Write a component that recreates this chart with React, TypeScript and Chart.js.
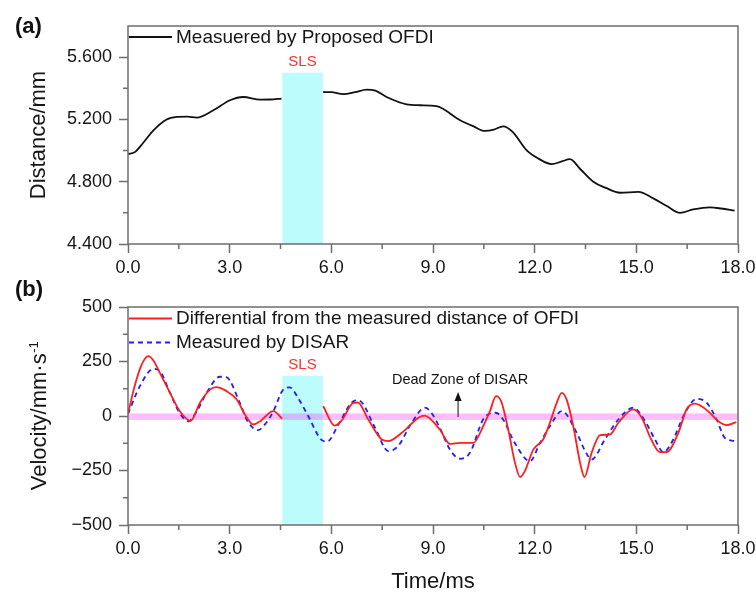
import React, { useEffect, useRef } from 'react';
import { Chart, registerables } from 'chart.js';

Chart.register(...registerables);

// ---------- data ----------
const timeTicks = [0, 3, 6, 9, 12, 15, 18];
const timeMinor = [1.5, 4.5, 7.5, 10.5, 13.5, 16.5];
const distTicks = [4.4, 4.8, 5.2, 5.6];
const distMinor = [4.6, 5.0, 5.4];
const velTicks = [-500, -250, 0, 250, 500];
const velMinor = [-375, -125, 125, 375];

// (a) measured distance by proposed OFDI (mm)
const distT = [0, 0.2, 0.45, 0.75, 1.14, 1.44, 1.75, 2.03, 2.52, 3.01, 3.4, 3.9, 4.2, 4.53, 5.15, 5.76, 6.0, 6.35, 6.7, 7.04, 7.3, 7.63, 8.22, 8.62, 9.1, 9.8, 10.2, 10.53, 10.8, 11.07, 11.35, 11.76, 12.1, 12.5, 12.8, 13.04, 13.35, 13.73, 14.1, 14.52, 15.06, 15.5, 15.9, 16.29, 16.68, 17.17, 17.5, 17.9];
const distV = [4.977, 4.99, 5.05, 5.13, 5.2, 5.216, 5.218, 5.212, 5.259, 5.323, 5.344, 5.327, 5.328, 5.334, null, 5.376, 5.375, 5.362, 5.375, 5.392, 5.385, 5.344, 5.297, 5.291, 5.285, 5.195, 5.155, 5.126, 5.135, 5.156, 5.12, 5.003, 4.95, 4.913, 4.93, 4.945, 4.88, 4.8, 4.76, 4.729, 4.735, 4.693, 4.644, 4.6, 4.622, 4.635, 4.628, 4.614];

// (b) differential of OFDI distance (mm/s)
const diffT = [0, 0.2, 0.4, 0.6, 0.75, 0.94, 1.24, 1.53, 1.85, 2.12, 2.42, 2.6, 2.91, 3.21, 3.45, 3.7, 3.9, 4.29, 4.55, 5.15, 5.76, 6.1, 6.29, 6.65, 6.78, 7.09, 7.49, 7.68, 8.08, 8.57, 8.75, 9.2, 9.5, 9.8, 10.19, 10.48, 10.68, 10.86, 11.01, 11.22, 11.42, 11.57, 11.71, 11.96, 12.25, 12.45, 12.65, 12.8, 12.94, 13.14, 13.34, 13.47, 13.68, 13.93, 14.22, 14.47, 14.91, 15.16, 15.44, 15.7, 15.89, 16.24, 16.48, 16.73, 17.12, 17.42, 17.66, 17.95];
const diffV = [10, 140, 235, 275, 255, 198, 106, 22, -22, 60, 121, 132, 114, 76, 7, -39, -24, 22, -12, null, 45, -44, -24, 60, 62, -16, -108, -115, -77, -8, 2, -62, -128, -123, -123, -47, 22, 91, 68, -62, -215, -280, -253, -154, -108, -31, 60, 106, 76, -47, -215, -280, -169, -88, -85, -31, 30, -8, -108, -166, -166, -77, 30, 57, 22, -24, -42, -28];

// (b) measured by DISAR (mm/s)
const disarT = [0, 0.35, 0.75, 0.94, 1.24, 1.5, 1.78, 2.03, 2.32, 2.71, 2.9, 3.3, 3.5, 3.83, 4.08, 4.29, 4.58, 4.77, 5.03, 5.32, 5.7, 5.88, 6.21, 6.65, 6.8, 7.29, 7.68, 7.97, 8.37, 8.76, 8.95, 9.2, 9.5, 9.8, 10.09, 10.48, 10.85, 11.07, 11.4, 11.86, 12.16, 12.45, 12.8, 13.24, 13.49, 13.68, 14.07, 14.47, 14.91, 15.26, 15.55, 15.8, 16.09, 16.39, 16.78, 17.08, 17.37, 17.61, 17.9];
const disarV = [10, 137, 216, 206, 106, 20, -24, 22, 106, 180, 178, 60, -16, -65, -31, 22, 121, 131, 80, -1, -108, -117, -39, 68, 72, -54, -161, -138, -31, 38, 15, -54, -154, -196, -169, -16, 15, -16, -120, -207, -123, -47, 22, -77, -161, -200, -108, -16, 38, -24, -108, -166, -108, 0, 79, 60, -16, -100, -115];

const slsRange = [4.55, 5.75];
const slsTopDist = 5.5;
const slsTopVel = 185;
const deadZone = [-18, 12];
const deadArrow = { t: 9.74, from: -5, to: 110 };
const deadLabel = { t: 9.8, v: 167, text: 'Dead Zone of DISAR' };

const legendA = ['Measuered by Proposed OFDI'];
const legendB = ['Differential from the measured distance of OFDI', 'Measured by DISAR'];

// ---------- styles ----------
const FONT = 'Arial, "Liberation Sans", Helvetica, sans-serif';
const GRAY = '#6e6e6e';
const TEXT = '#161616';
const CYAN = '#bdfcfc';
const RED = '#ff1e1e';
const BLUE = '#1e1eff';

Chart.defaults.font.family = FONT;

const pts = (t: number[], v: (number | null)[]) => t.map((x, i) => ({ x, y: v[i] }));

type Extra = {
  panel: string;
  panelY: number;
  xMinor: number[];
  yMinor: number[];
  slsTop: number;
  legendRows: number[];
  band?: number[];
  dead?: boolean;
  yTitleSup?: boolean;
};

function decorPlugin(extra: Extra) {
  return {
    id: 'decor',
    beforeDatasetsDraw(chart: any) {
      const { ctx, chartArea: a, scales } = chart;
      const xs = scales.x, ys = scales.y;
      ctx.save();
      const x0 = xs.getPixelForValue(slsRange[0]);
      const x1 = xs.getPixelForValue(slsRange[1]);
      const yt = ys.getPixelForValue(extra.slsTop);
      ctx.fillStyle = CYAN;
      ctx.fillRect(x0, yt, x1 - x0, a.bottom - yt);
      if (extra.band) {
        const b0 = ys.getPixelForValue(extra.band[1]);
        const b1 = ys.getPixelForValue(extra.band[0]);
        ctx.fillStyle = 'rgba(255,0,255,0.26)';
        ctx.fillRect(a.left, b0, a.right - a.left, b1 - b0);
      }
      ctx.restore();
    },
    afterDraw(chart: any) {
      const { ctx, chartArea: a, scales } = chart;
      const xs = scales.x, ys = scales.y;
      ctx.save();
      // frame
      ctx.strokeStyle = GRAY;
      ctx.lineWidth = 1.5;
      ctx.strokeRect(a.left, a.top, a.right - a.left, a.bottom - a.top);
      // minor ticks
      ctx.beginPath();
      extra.xMinor.forEach((v) => {
        const p = xs.getPixelForValue(v);
        ctx.moveTo(p, a.bottom);
        ctx.lineTo(p, a.bottom + 5);
      });
      extra.yMinor.forEach((v) => {
        const p = ys.getPixelForValue(v);
        ctx.moveTo(a.left - 5, p);
        ctx.lineTo(a.left, p);
      });
      ctx.stroke();
      // SLS label
      const xc = xs.getPixelForValue((slsRange[0] + slsRange[1]) / 2);
      const yt = ys.getPixelForValue(extra.slsTop);
      ctx.fillStyle = '#ff3030';
      ctx.font = `15px ${FONT}`;
      ctx.textAlign = 'center';
      ctx.textBaseline = 'middle';
      ctx.fillText('SLS', xc, yt - 11);
      // legend
      chart.data.datasets.forEach((ds: any, i: number) => {
        const y = a.top + extra.legendRows[i];
        ctx.beginPath();
        ctx.strokeStyle = ds.borderColor;
        ctx.lineWidth = ds.borderWidth;
        ctx.setLineDash(ds.borderDash || []);
        ctx.moveTo(a.left + 1, y);
        ctx.lineTo(a.left + 44, y);
        ctx.stroke();
        ctx.setLineDash([]);
        ctx.fillStyle = TEXT;
        ctx.font = `19px ${FONT}`;
        ctx.textAlign = 'left';
        ctx.textBaseline = 'middle';
        ctx.fillText(ds.label, a.left + 48, y + 0.5);
      });
      // dead zone annotation
      if (extra.dead) {
        const ax = xs.getPixelForValue(deadArrow.t);
        const ay0 = ys.getPixelForValue(deadArrow.from);
        const ay1 = ys.getPixelForValue(deadArrow.to);
        ctx.strokeStyle = '#333';
        ctx.lineWidth = 1.2;
        ctx.beginPath();
        ctx.moveTo(ax, ay0);
        ctx.lineTo(ax, ay1 + 6);
        ctx.stroke();
        ctx.fillStyle = '#111';
        ctx.beginPath();
        ctx.moveTo(ax, ay1);
        ctx.lineTo(ax - 3.5, ay1 + 9);
        ctx.lineTo(ax + 3.5, ay1 + 9);
        ctx.closePath();
        ctx.fill();
        ctx.font = `14.5px ${FONT}`;
        ctx.textAlign = 'center';
        ctx.textBaseline = 'middle';
        ctx.fillText(deadLabel.text, xs.getPixelForValue(deadLabel.t), ys.getPixelForValue(deadLabel.v));
      }
      // custom y title with superscript
      if (extra.yTitleSup) {
        const main = 'Velocity/mm\u00B7s';
        const sup = '-1';
        ctx.fillStyle = TEXT;
        ctx.font = `22px ${FONT}`;
        const wm = ctx.measureText(main).width;
        ctx.font = `13px ${FONT}`;
        const wsup = ctx.measureText(sup).width;
        const cy = (a.top + a.bottom) / 2;
        ctx.translate(45.5, cy);
        ctx.rotate(-Math.PI / 2);
        ctx.textAlign = 'left';
        ctx.textBaseline = 'alphabetic';
        const start = -(wm + wsup) / 2;
        ctx.font = `22px ${FONT}`;
        ctx.fillText(main, start, 0);
        ctx.font = `13px ${FONT}`;
        ctx.fillText(sup, start + wm + 0.5, -8);
        ctx.setTransform(1, 0, 0, 1, 0, 0);
      }
      // panel label
      ctx.fillStyle = '#111';
      ctx.font = `bold 22px ${FONT}`;
      ctx.textAlign = 'left';
      ctx.textBaseline = 'alphabetic';
      ctx.fillText(extra.panel, 15, extra.panelY);
      ctx.restore();
    },
  };
}

function xScale(height: number, title?: string) {
  return {
    type: 'linear',
    min: 0,
    max: 18,
    afterBuildTicks: (s: any) => {
      s.ticks = timeTicks.map((v) => ({ value: v }));
    },
    ticks: {
      callback: (v: any) => Number(v).toFixed(1),
      font: { size: 18 },
      color: TEXT,
      padding: 4,
      maxRotation: 0,
      autoSkip: false,
    },
    grid: { drawOnChartArea: false, tickLength: 9, color: GRAY, tickWidth: 1.5 },
    border: { display: false },
    title: title
      ? { display: true, text: title, font: { size: 22, lineHeight: 1 }, color: TEXT, padding: { top: 0, bottom: 1 } }
      : { display: false },
    afterFit: (s: any) => {
      s.height = height;
      s.paddingLeft = 0;
      s.paddingRight = 0;
    },
  };
}

function yScale(min: number, max: number, ticks: number[], fmt: (v: number) => string, title?: string) {
  return {
    type: 'linear',
    min,
    max,
    afterBuildTicks: (s: any) => {
      s.ticks = ticks.map((v) => ({ value: v }));
    },
    ticks: {
      callback: (v: any) => fmt(Number(v)),
      font: { size: 18 },
      color: TEXT,
      padding: 7,
      autoSkip: false,
    },
    grid: { drawOnChartArea: false, tickLength: 9, color: GRAY, tickWidth: 1.5 },
    border: { display: false },
    title: title
      ? { display: true, text: title, font: { size: 22, lineHeight: 1 }, color: TEXT, padding: { top: 28, bottom: 0 } }
      : { display: false },
    afterFit: (s: any) => {
      s.width = 128;
      s.paddingTop = 0;
      s.paddingBottom = 0;
    },
  };
}

export default function App() {
  const refA = useRef<HTMLCanvasElement>(null);
  const refB = useRef<HTMLCanvasElement>(null);

  useEffect(() => {
    const chartA = new Chart(refA.current as HTMLCanvasElement, {
      type: 'line',
      data: {
        datasets: [
          {
            label: legendA[0],
            data: pts(distT, distV),
            borderColor: '#111111',
            borderWidth: 1.8,
            pointRadius: 0,
            cubicInterpolationMode: 'monotone',
            spanGaps: false,
          } as any,
        ],
      },
      options: {
        responsive: false,
        animation: false,
        events: [],
        layout: { padding: { top: 26, right: 18, left: 0, bottom: 0 } },
        plugins: { legend: { display: false }, tooltip: { enabled: false } },
        scales: {
          x: xScale(46) as any,
          y: yScale(4.4, 5.8, distTicks, (v) => v.toFixed(3), 'Distance/mm') as any,
        },
      },
      plugins: [
        decorPlugin({
          panel: '(a)',
          panelY: 33,
          xMinor: timeMinor,
          yMinor: distMinor,
          slsTop: slsTopDist,
          legendRows: [11],
        }) as any,
      ],
    });

    const chartB = new Chart(refB.current as HTMLCanvasElement, {
      type: 'line',
      data: {
        datasets: [
          {
            label: legendB[0],
            data: pts(diffT, diffV),
            borderColor: RED,
            borderWidth: 1.8,
            pointRadius: 0,
            cubicInterpolationMode: 'monotone',
            spanGaps: false,
          } as any,
          {
            label: legendB[1],
            data: pts(disarT, disarV),
            borderColor: BLUE,
            borderWidth: 1.8,
            borderDash: [5, 4],
            pointRadius: 0,
            cubicInterpolationMode: 'monotone',
            spanGaps: false,
          } as any,
        ],
      },
      options: {
        responsive: false,
        animation: false,
        events: [],
        layout: { padding: { top: 37, right: 18, left: 0, bottom: 0 } },
        plugins: { legend: { display: false }, tooltip: { enabled: false } },
        scales: {
          x: xScale(69, 'Time/ms') as any,
          y: yScale(-500, 500, velTicks, (v) => (v < 0 ? '\u2212' + Math.abs(v) : String(v))) as any,
        },
      },
      plugins: [
        decorPlugin({
          panel: '(b)',
          panelY: 26,
          xMinor: timeMinor,
          yMinor: velMinor,
          slsTop: slsTopVel,
          legendRows: [11.5, 35.5],
          band: deadZone,
          dead: true,
          yTitleSup: true,
        }) as any,
      ],
    });

    return () => {
      chartA.destroy();
      chartB.destroy();
    };
  }, []);

  return (
    <div style={{ position: 'absolute', left: 0, top: 0, width: 756, height: 594, background: '#ffffff' }}>
      <canvas ref={refA} width={756} height={290} style={{ display: 'block', position: 'absolute', left: 0, top: 0 }} />
      <canvas ref={refB} width={756} height={324} style={{ display: 'block', position: 'absolute', left: 0, top: 270 }} />
    </div>
  );
}
